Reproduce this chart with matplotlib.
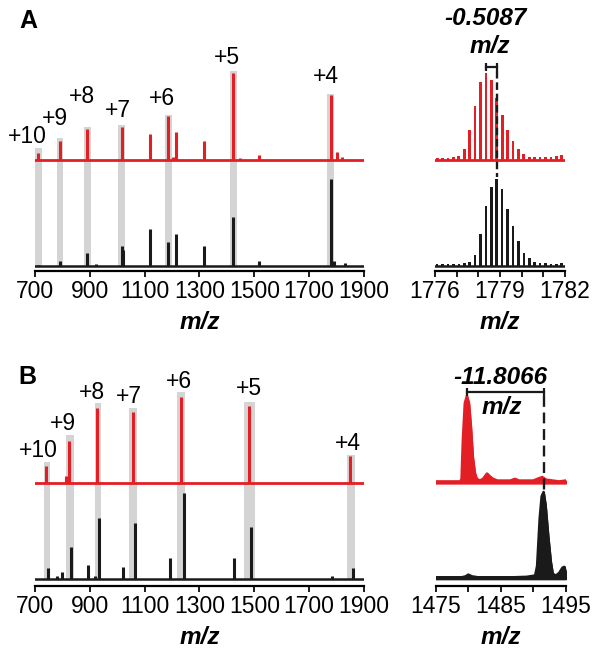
import matplotlib
matplotlib.use("Agg")
import matplotlib.pyplot as plt

plt.rcParams['font.family'] = ['Liberation Sans', 'DejaVu Sans']

RED = '#e31e25'
BLACK = '#1a1a1a'
GREY = '#d4d4d4'

# ---- panel A: survey spectra (relative intensity, %) ----
A_red_mz = [712, 791, 890, 1017, 1118, 1186, 1202, 1216, 1318, 1423, 1447, 1518, 1778, 1802, 1820]
A_red_int = [8, 22, 36, 38, 30, 51, 4, 32, 22, 100, 2, 6, 75, 9, 3]
A_blk_mz = [712, 791, 890, 922, 1017, 1022, 1118, 1186, 1216, 1318, 1423, 1518, 1778, 1790, 1830]
A_blk_int = [1, 6, 15, 2, 23, 18, 43, 28, 37, 23, 56, 6, 100, 6, 3]
A_charges = ['+10', '+9', '+8', '+7', '+6', '+5', '+4']
A_band_mz = [712, 791, 890, 1017, 1186, 1423, 1778]
A_band_w = [25, 25, 25, 25, 25, 25, 25]
A_band_top = [14, 25, 38, 40, 52, 102, 76]

# ---- panel A: isotope envelope of +4 ----
A_iso_red_mz = [1776.10, 1776.35, 1776.60, 1776.85, 1777.10, 1777.35, 1777.60, 1777.85, 1778.10,
                1778.35, 1778.60, 1778.85, 1779.10, 1779.35, 1779.60, 1779.85, 1780.10, 1780.35,
                1780.60, 1780.85, 1781.10, 1781.35, 1781.60, 1781.85]
A_iso_red_int = [2, 2, 2, 3, 5, 13, 35, 62, 90, 100, 92, 71, 52, 35, 22, 13, 6.5, 3,
                 3, 3, 3, 3, 5, 6]
A_iso_blk_mz = A_iso_red_mz
A_iso_blk_int = [2, 2, 2, 2, 2, 3, 5, 13, 37, 69, 91, 100, 89, 66, 46, 29, 15, 9,
                 5, 3, 3, 2, 2, 3]
A_shift = -0.5087
A_red_apex = 1778.35
A_blk_apex = 1778.85

# ---- panel B: survey spectra ----
B_red_mz = [740, 812, 824, 925, 1057, 1233, 1479, 1848]
B_red_int = [20, 8, 49, 87, 82, 99, 89, 31]
B_blk_mz = [748, 780, 797, 830, 894, 920, 933, 1021, 1064, 1191, 1243, 1427, 1488, 1784, 1860]
B_blk_int = [13, 4, 8, 37, 16, 4, 70, 14, 64, 24, 99, 24, 60, 3, 13]
B_charges = ['+10', '+9', '+8', '+7', '+6', '+5', '+4']
B_band_mz = [743.6, 827, 930, 1059, 1233.5, 1484, 1853]
B_band_w = [25, 29, 25, 29, 29, 40, 29]
B_band_top = [24, 55, 92, 86, 105, 93, 33]

# ---- panel B: +5 region profiles ----
B_prof_red_mz = [1475, 1476.5, 1478.0, 1478.8, 1479.0, 1479.2, 1479.5, 1479.8, 1480.1, 1480.4,
                 1480.7, 1481.0, 1481.3, 1481.8, 1482.3, 1482.9, 1483.3, 1483.8, 1484.5, 1485.5,
                 1486.5, 1487.2, 1487.8, 1488.8, 1490.0, 1491.0, 1491.4, 1492.0, 1493.0, 1494.0, 1495]
B_prof_red_int = [2, 2, 2, 2, 5, 50, 92, 100, 92, 65,
                  30, 12, 5, 3, 5, 11, 8, 5, 3, 3,
                  3, 5, 3, 3, 3, 6, 7, 4, 3, 2, 3]
B_prof_blk_mz = [1475, 1477, 1479.0, 1479.6, 1480.0, 1480.6, 1481.5, 1483, 1485, 1487, 1489,
                 1490.3, 1490.6, 1491.0, 1491.3, 1491.6, 1491.9, 1492.3, 1492.7, 1493.0, 1493.5,
                 1494.0, 1494.5, 1494.8, 1495]
B_prof_blk_int = [2, 2, 2, 3, 5, 3, 2, 2, 2, 2, 2.5,
                  4, 15, 70, 95, 100, 85, 50, 20, 6, 4,
                  7, 13, 14, 9]
B_shift = -11.8066
B_red_apex = 1479.8
B_blk_apex = 1491.6

W, H = 601, 655
K = 0.87  # pixels per % intensity
TICK_FS = 16.5
LABEL_FS = 17.5
fig = plt.figure(figsize=(W / 100, H / 100), dpi=100)


def panel_axes(x0, x1, y_axis, y_base, y_top):
    ax = fig.add_axes([x0 / W, 1 - y_axis / H, (x1 - x0) / W, (y_axis - y_top) / H])
    ax.patch.set_alpha(0)
    lo = -(y_axis - y_base) / K
    ax.set_ylim(lo, lo + (y_axis - y_top) / K)
    for s in ('left', 'right', 'top'):
        ax.spines[s].set_visible(False)
    ax.spines['bottom'].set_linewidth(1.6)
    ax.set_yticks([])
    ax.tick_params(axis='x', length=4.3, width=1.4, labelsize=TICK_FS, pad=2, color=BLACK)
    ax.set_xlabel('m/z', fontsize=LABEL_FS, fontweight='bold', fontstyle='italic', labelpad=6)
    return ax


def draw_survey(ax, red_mz, red_int, blk_mz, blk_int, band_mz, band_w, band_top,
                off, charges, label_off):
    ax.set_xlim(700, 1900)
    ax.set_xticks(range(700, 1901, 200))
    ax.bar(band_mz, [t + off for t in band_top], width=band_w, bottom=0,
           color=GREY, zorder=0)
    ax.axhline(0, color=BLACK, lw=1.8, zorder=2)
    ax.vlines(blk_mz, 0, blk_int, color=BLACK, lw=2.2, zorder=2)
    ax.axhline(off, color=RED, lw=2.0, zorder=3)
    ax.vlines(red_mz, off, [off + v for v in red_int], color=RED, lw=2.2, zorder=3)
    for lab, x, t, (dx, dy) in zip(charges, band_mz, band_top, label_off):
        ax.text(x + dx, off + t + dy / K, lab, ha='center', va='center', fontsize=TICK_FS)


def shift_bar(ax, x_a, x_b, y, cap):
    ax.plot([x_a, x_b], [y, y], color=BLACK, lw=1.6, clip_on=False)
    ax.vlines([x_a, x_b], y - cap, y + cap, color=BLACK, lw=1.6, clip_on=False)


# ---------------- A ----------------
offA = (266 - 160) / K
axA = panel_axes(35, 364, 271, 266, 5)
draw_survey(axA, A_red_mz, A_red_int, A_blk_mz, A_blk_int, A_band_mz, A_band_w, A_band_top,
            offA, A_charges,
            [(-41, 11), (-18, 20), (-19, 30), (-14, 15), (-23, 16), (-23, 14), (-17, 17)])

axAz = panel_axes(435, 565, 271, 266, 5)
axAz.set_xlim(1776, 1782)
ticks = list(range(1776, 1783))
axAz.set_xticks(ticks)
axAz.set_xticklabels([str(t) if t in (1776, 1779, 1782) else '' for t in ticks])
axAz.axhline(0, color=BLACK, lw=1.8)
axAz.bar(A_iso_blk_mz, A_iso_blk_int, width=0.12, color=BLACK)
axAz.axhline(offA, color=RED, lw=2.0)
axAz.bar(A_iso_red_mz, A_iso_red_int, width=0.13, bottom=offA, color=RED)
yb = (266 - 67) / K
axAz.plot([A_blk_apex, A_blk_apex], [yb - 5, 102], color=BLACK, lw=1.7,
          dashes=(3.2, 1.6), zorder=4)
shift_bar(axAz, A_red_apex, A_blk_apex, yb, 4.5)
axAz.text(1778.31, (266 - 19) / K, f'{A_shift:.4f}', ha='center', va='center',
          fontsize=LABEL_FS, fontweight='bold', fontstyle='italic')
axAz.text(1778.54, (266 - 47) / K, 'm/z', ha='center', va='center',
          fontsize=LABEL_FS, fontweight='bold', fontstyle='italic')

# ---------------- B ----------------
offB = (579 - 483.3) / K
axB = panel_axes(35, 364, 586, 579, 345)
draw_survey(axB, B_red_mz, B_red_int, B_blk_mz, B_blk_int, B_band_mz, B_band_w, B_band_top,
            offB, B_charges,
            [(-33, 12), (-25, 12), (-22, 11), (-16, 12), (-8, 10), (-3, 14), (-11, 11)])

axBz = panel_axes(435.7, 565.7, 586, 579, 345)
axBz.set_xlim(1475, 1495)
ticks = list(range(1475, 1496, 5))
axBz.set_xticks(ticks)
axBz.set_xticklabels([str(t) if t in (1475, 1485, 1495) else '' for t in ticks])
axBz.fill_between(B_prof_blk_mz, 0, B_prof_blk_int, color=BLACK, lw=1.2)
axBz.plot(B_prof_blk_mz, B_prof_blk_int, color=BLACK, lw=1.8)
axBz.fill_between(B_prof_red_mz, offB, [offB + v for v in B_prof_red_int], color=RED, lw=1.2)
axBz.plot(B_prof_red_mz, [offB + v for v in B_prof_red_int], color=RED, lw=2.0)
yb = (579 - 391.7) / K
axBz.plot([B_blk_apex, B_blk_apex], [yb - 5, 101], color=BLACK, lw=1.7,
          dashes=(4.6, 2.4), zorder=4)
shift_bar(axBz, B_red_apex, B_blk_apex, yb, 4.5)
axBz.text(1484.9, (579 - 377) / K, f'{B_shift:.4f}', ha='center', va='center',
          fontsize=LABEL_FS, fontweight='bold', fontstyle='italic')
axBz.text(1485.2, (579 - 407) / K, 'm/z', ha='center', va='center',
          fontsize=LABEL_FS, fontweight='bold', fontstyle='italic')

fig.text(28 / W, 1 - 21 / H, 'A', fontsize=18, fontweight='bold', ha='center', va='center')
fig.text(27 / W, 1 - 377 / H, 'B', fontsize=18, fontweight='bold', ha='center', va='center')

fig.savefig('out.png', dpi=100)
